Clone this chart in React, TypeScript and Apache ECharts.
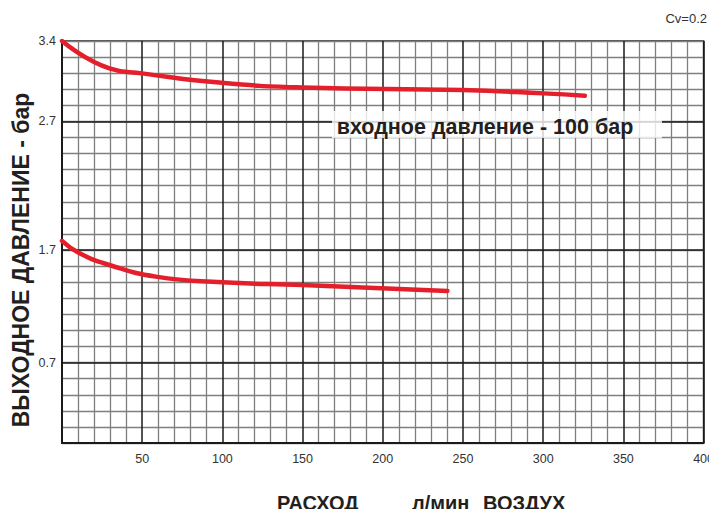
import React, { useEffect, useRef } from "react";
import * as echarts from "echarts";

// Flow (l/min) and outlet pressure (bar)
const upperFlow = [0, 29.6, 50, 99.6, 149.8, 250, 300, 326];
const upperPressure = [3.4, 3.162, 3.118, 3.036, 2.996, 2.973, 2.944, 2.923];
const lowerFlow = [0, 11, 29.6, 58.5, 99.8, 150, 240.3];
const lowerPressure = [1.772, 1.671, 1.567, 1.464, 1.414, 1.39, 1.337];

// The y-axis of the original is labelled non-uniformly on a uniform grid:
// labels (bar) sit at these grid positions (grid cells counted from the bottom)
const yTickLabels = [0, 0.7, 1.7, 2.7, 3.4];
const yTickCells = [0, 5, 12, 20, 25];
const xTickLabels = [50, 100, 150, 200, 250, 300, 350, 400];

function barToCell(v: number): number {
  for (let i = 0; i < yTickLabels.length - 1; i++) {
    const a = yTickLabels[i], b = yTickLabels[i + 1];
    if (v <= b || i === yTickLabels.length - 2) {
      const t = (v - a) / (b - a);
      return yTickCells[i] + t * (yTickCells[i + 1] - yTickCells[i]);
    }
  }
  return 0;
}

const RED = "#e41f2b";
const FONT = "Liberation Sans, Arial, sans-serif";

export default function App() {
  const ref = useRef<HTMLDivElement>(null);
  useEffect(() => {
    if (!ref.current) return;
    const chart = echarts.init(ref.current, null, { renderer: "svg" });
    const upper = upperFlow.map((x, i) => [x, barToCell(upperPressure[i])]);
    const lower = lowerFlow.map((x, i) => [x, barToCell(lowerPressure[i])]);
    const majorCells = yTickCells.slice(1, -1);
    chart.setOption({
      animation: false,
      backgroundColor: "#ffffff",
      grid: {
        left: 62,
        top: 41,
        width: 646,
        height: 402,
        show: true,
        borderColor: "#1a1a1a",
        borderWidth: 1.5,
      },
      xAxis: {
        type: "value",
        min: 0,
        max: 400,
        interval: 50,
        axisLine: { show: true, lineStyle: { color: "#1a1a1a", width: 2 } },
        axisTick: { show: false },
        axisLabel: {
          color: "#333",
          fontSize: 12.5,
          fontFamily: FONT,
          margin: 9,
          formatter: (v: number) => (xTickLabels.includes(v) ? String(v) : ""),
        },
        splitLine: { show: true, lineStyle: { color: "#1a1a1a", width: 1.5 } },
        minorTick: { show: false, splitNumber: 5 },
        minorSplitLine: { show: true, lineStyle: { color: "#7f7f7f", width: 1.3 } },
      },
      yAxis: {
        type: "value",
        min: 0,
        max: 25,
        interval: 1,
        axisLine: { show: true, lineStyle: { color: "#1a1a1a", width: 2 } },
        axisTick: { show: false },
        axisLabel: {
          color: "#333",
          fontSize: 12.5,
          fontFamily: FONT,
          margin: 6,
          formatter: (v: number) => {
            const idx = yTickCells.indexOf(v);
            return idx > 0 ? yTickLabels[idx].toFixed(1) : "";
          },
        },
        splitLine: { show: true, lineStyle: { color: "#7f7f7f", width: 1.3 } },
      },
      series: [
        {
          type: "line",
          data: [],
          silent: true,
          markLine: {
            symbol: "none",
            silent: true,
            label: { show: false },
            lineStyle: { color: "#1a1a1a", width: 1.5, type: "solid" },
            data: majorCells.map((c) => ({ yAxis: c })),
          },
        },
        {
          type: "line",
          data: upper,
          smooth: 0.5,
          showSymbol: false,
          lineStyle: { color: RED, width: 4.5, cap: "round" },
          z: 5,
        },
        {
          type: "line",
          data: lower,
          smooth: 0.5,
          showSymbol: false,
          lineStyle: { color: RED, width: 4.5, cap: "round" },
          z: 5,
        },
      ],
      graphic: [
        {
          type: "rect",
          shape: { x: 332, y: 111, width: 330, height: 27 },
          style: { fill: "rgba(255,255,255,0.8)" },
          z: 10,
        },
        {
          type: "text",
          x: 485,
          y: 127,
          style: {
            text: "входное давление - 100 бар",
            font: `bold 21.5px ${FONT}`,
            fill: "#231f20",
            textAlign: "center",
            textVerticalAlign: "middle",
          },
          z: 11,
        },
        {
          type: "text",
          x: 707,
          y: 18,
          style: {
            text: "Cv=0.2",
            font: `13px ${FONT}`,
            fill: "#333",
            textAlign: "right",
            textVerticalAlign: "middle",
          },
        },
        {
          type: "text",
          x: 21,
          y: 260,
          rotation: Math.PI / 2,
          style: {
            text: "ВЫХОДНОЕ ДАВЛЕНИЕ - бар",
            font: `bold 23px ${FONT}`,
            fill: "#231f20",
            textAlign: "center",
            textVerticalAlign: "middle",
          },
        },
        {
          type: "text",
          x: 277,
          y: 503,
          style: {
            text: "РАСХОД",
            font: `bold 20px ${FONT}`,
            fill: "#231f20",
            textAlign: "left",
            textVerticalAlign: "middle",
          },
        },
        {
          type: "text",
          x: 412,
          y: 503,
          style: {
            text: "л/мин",
            font: `bold 20px ${FONT}`,
            fill: "#231f20",
            textAlign: "left",
            textVerticalAlign: "middle",
          },
        },
        {
          type: "text",
          x: 483,
          y: 503,
          style: {
            text: "ВОЗДУХ",
            font: `bold 20px ${FONT}`,
            fill: "#231f20",
            textAlign: "left",
            textVerticalAlign: "middle",
          },
        },
      ],
    });
    return () => chart.dispose();
  }, []);
  return <div ref={ref} style={{ width: 717, height: 517, margin: -8 }} />;
}
